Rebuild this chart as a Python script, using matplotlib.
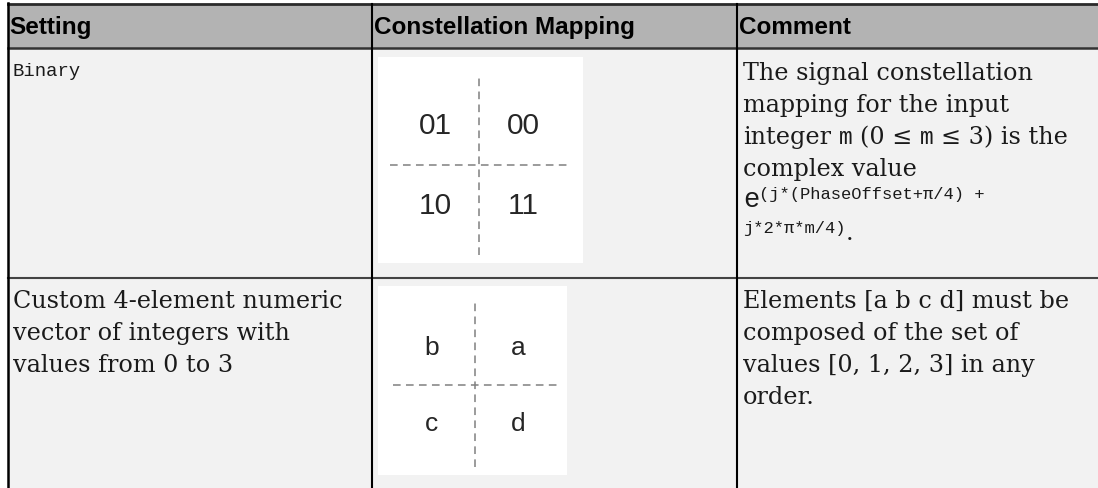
import matplotlib
matplotlib.use('Agg')
import matplotlib.pyplot as plt

W, H = 1098, 489

# table layout (pixels)
col_x = [7.5, 372, 736.5]
head_top, head_bot, row_div = 5, 48.5, 279

headers = ['Setting', 'Constellation Mapping', 'Comment']

# constellation boxes: (left, top, right, bottom), cross centre, labels
box_rects = [(378, 58, 583, 264), (378, 287, 567, 476)]
box_cross = [(479, 166), (475, 386)]
box_unit = [(44, 40), (43, 38)]
box_labels = [['01', '00', '10', '11'], ['b', 'a', 'c', 'd']]
box_fs = [21.5, 19]
quad_x = [-1, 1, -1, 1]
quad_y = [1, 1, -1, -1]

serif = dict(family='DejaVu Serif', size=17.2, color='#1a1a1a')
mono = dict(family='Liberation Mono', size=16.5, color='#1a1a1a')
mono_big = dict(family='Liberation Mono', size=19.5, color='#1a1a1a')
mono_sup = dict(family='Liberation Mono', size=12.3, color='#1a1a1a')
mono_set = dict(family='Liberation Mono', size=13.6, color='#1a1a1a')

line_h = 32

fig = plt.figure(figsize=(W / 100, H / 100), dpi=100)
fig.patch.set_facecolor('white')
ax = fig.add_axes([0, 0, 1, 1])
ax.set_xlim(0, W)
ax.set_ylim(H, 0)
ax.axis('off')

# backgrounds
ax.fill_between([col_x[0], W], head_top, head_bot, color='#b3b3b3', lw=0)
ax.fill_between([col_x[0], W], head_bot, H, color='#f2f2f2', lw=0)

# grid lines
ax.plot([col_x[0], W], [head_top, head_top], color='#2a2a2a', lw=2.0)
ax.plot([col_x[0], W], [head_bot, head_bot], color='#333333', lw=1.8)
ax.plot([col_x[0], W], [row_div, row_div], color='#444444', lw=1.5)
ax.plot([col_x[0], col_x[0]], [head_top - 1, H], color='black', lw=1.8)
for cx in col_x[1:]:
    ax.plot([cx, cx], [head_top, H], color='black', lw=1.5)

# header text
for cx, h in zip(col_x, headers):
    ax.text(cx + 2, 34, h, family='Liberation Sans', weight='bold',
            size=17.5, color='black', va='baseline')

fig.canvas.draw()
rend = fig.canvas.get_renderer()


def width(s, props):
    t = ax.text(0, 0, s, **props)
    w = t.get_window_extent(rend).width
    t.remove()
    return w


def space_w(props):
    return width('x x', props) - width('xx', props)


def put_runs(x, y, runs):
    # draw pieces of text one after another on the same baseline
    for s, props, dy in runs:
        core = s.strip(' ')
        lead = len(s) - len(s.lstrip(' '))
        trail = len(s) - len(s.rstrip(' '))
        sp = space_w(props)
        x += lead * sp
        if core:
            ax.text(x, y + dy, core, va='baseline', **props)
            x += width(core, props)
        x += trail * sp
    return x


# Setting column
ax.text(12, 76, 'Binary', va='baseline', **mono_set)
setting2 = ['Custom 4-element numeric', 'vector of integers with',
            'values from 0 to 3']
for i, s in enumerate(setting2):
    ax.text(13, 308 + i * line_h, s, va='baseline', **serif)

# Comment column, row 1
cx0 = 743
comment1 = ['The signal constellation', 'mapping for the input']
for i, s in enumerate(comment1):
    ax.text(cx0, 80 + i * line_h, s, va='baseline', **serif)
put_runs(cx0, 144, [('integer ', serif, 0), ('m', mono, 0), (' (0 ≤ ', serif, 0),
                    ('m', mono, 0), (' ≤ 3) is the', serif, 0)])
ax.text(cx0, 176, 'complex value', va='baseline', **serif)
put_runs(cx0, 207, [('e', mono_big, 0), ('(j*(PhaseOffset+π/4) +', mono_sup, -8)])
put_runs(cx0, 233, [('j*2*π*m/4)', mono_sup, 0), ('.', serif, 7)])

# Comment column, row 2
comment2 = ['Elements [a b c d] must be', 'composed of the set of',
            'values [0, 1, 2, 3] in any', 'order.']
for i, s in enumerate(comment2):
    ax.text(cx0, 308 + i * line_h, s, va='baseline', **serif)

# constellation diagrams
for k in range(2):
    l, t, r, b = box_rects[k]
    cxp, cyp = box_cross[k]
    ux, uy = box_unit[k]
    bx = fig.add_axes([l / W, 1 - b / H, (r - l) / W, (b - t) / H])
    bx.set_facecolor('white')
    bx.set_xlim((l - cxp) / ux, (r - cxp) / ux)
    bx.set_ylim((cyp - b) / uy, (cyp - t) / uy)
    for sp in bx.spines.values():
        sp.set_visible(False)
    bx.set_xticks([])
    bx.set_yticks([])
    arm_x = (r - l) * 0.435 / ux
    arm_y = (b - t) * 0.435 / uy
    bx.plot([0, 0], [-arm_y, arm_y], color='#808080', lw=1.1, ls=(0, (5, 3.5)))
    bx.plot([-arm_x, arm_x], [0, 0], color='#808080', lw=1.1, ls=(0, (5, 3.5)))
    for qx, qy, lab in zip(quad_x, quad_y, box_labels[k]):
        bx.text(qx, qy, lab, ha='center', va='center', family='Liberation Sans',
                size=box_fs[k], color='#262626')

fig.savefig('out.png', dpi=100)
